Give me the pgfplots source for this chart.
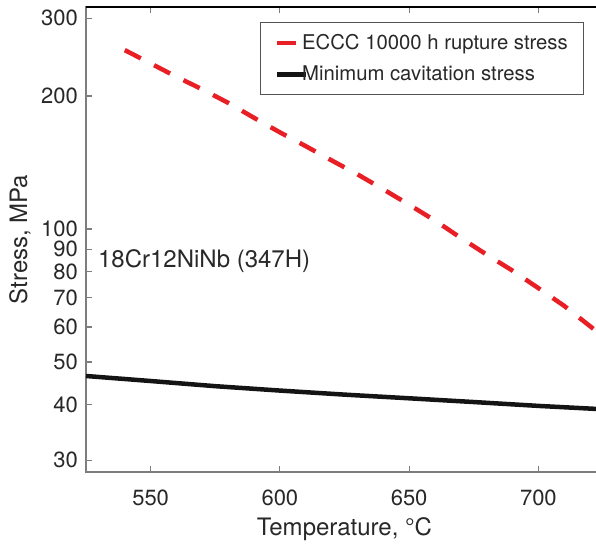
\documentclass[border=0pt]{standalone}
\usepackage{pgfplots}
\pgfplotsset{compat=1.18}
\usepackage{fontspec}
\setmainfont{TeX Gyre Heros}
\definecolor{redline}{RGB}{232,32,38}
\definecolor{axgray}{RGB}{125,125,125}
\definecolor{txt}{RGB}{40,40,40}
\pgfplotsset{shortdash legend/.style={legend image code/.code={\draw[##1, solid] (0pt,0pt) -- (19pt,0pt); \path (29pt,0pt);}}}
\pgfplotstableread{
T S
540 254
550 237
560 221
570 207
580 193
590 178.5
600 165.5
610 154
620 143
630 133
640 123
650 113.5
660 104.5
670 95.5
680 87.5
690 80.5
700 73.5
710 67
722 59
}\rupture
\pgfplotstableread{
T S
525 46.5
550 45.3
575 44.1
600 43.1
625 42.2
650 41.4
675 40.6
700 39.8
725 39.1
}\cavitation
\begin{document}
\begin{tikzpicture}
\useasboundingbox (-86pt,-74pt) rectangle (510pt,472pt);
\begin{axis}[
  scale only axis,
  width=517pt, height=465pt,
  xmin=525, xmax=725,
  ymode=log, ymin=28.2, ymax=318,
  xtick={550,600,650,700},
  ytick={30,40,50,60,70,80,90,100,200,300},
  yticklabels={30,40,50,60,70,80,90,100,200,300},
  log basis y=10,
  minor ytick={}, minor tick num=0,
  xtick pos=both, ytick pos=left,
  tick align=inside,
  major tick length=6pt,
  every tick/.style={axgray, line width=1.2pt},
  axis line style={axgray, line width=1.6pt},
  /pgf/number format/assume math mode=true,
  /pgf/number format/1000 sep={},
  ticklabel style={font=\fontsize{22}{26}\selectfont, text=txt, inner sep=0pt},
  xticklabel style={yshift=-18pt},
  yticklabel style={xshift=-8pt},
  every axis x label/.style={at={(axis description cs:0.5,-0.1355)}, anchor=base, font=\fontsize{24}{28}\selectfont, text=txt},
  every axis y label/.style={at={(axis description cs:-0.1277,0.5)}, rotate=90, anchor=center, font=\fontsize{24}{28}\selectfont, text=txt},
  xlabel={Temperature, °C},
  ylabel={Stress, MPa},
  legend cell align=left,
  legend style={at={(rel axis cs:0.964,0.968)}, anchor=north east,
    draw=txt!80, line width=1.2pt, font=\fontsize{20.3}{24}\selectfont, text=txt,
    inner xsep=14pt, inner ysep=8pt, row sep=7pt, column sep=-8pt,
    nodes={inner xsep=2pt, inner ysep=4pt}},
  legend image code/.code={\draw[#1] (0pt,0pt) -- (29pt,0pt);},
  clip=true,
]
\addplot[redline, line width=4.5pt, dash pattern=on 18pt off 15pt, shortdash legend] table[x=T,y=S] {\rupture};
\addlegendentry{ECCC 10000 h rupture stress}
\addplot[black!92, line width=4.5pt] table[x=T,y=S] {\cavitation};
\addlegendentry{Minimum cavitation stress}
\node[anchor=base west, font=\fontsize{24}{28}\selectfont, text=txt, inner sep=0pt] at (axis cs:529.6,82) {18Cr12NiNb (347H)};
\draw[black, line width=2.6pt] (rel axis cs:0,1) -- (rel axis cs:1,1);
\end{axis}
\end{tikzpicture}
\end{document}
